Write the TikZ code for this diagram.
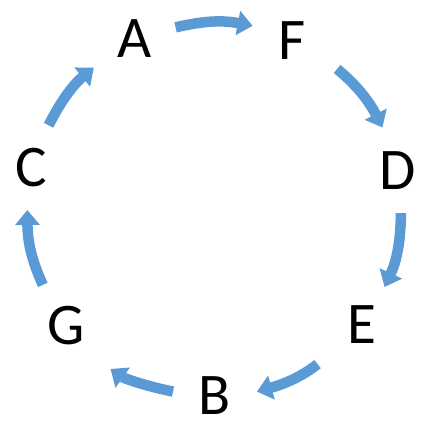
\documentclass[tikz,border=0pt]{standalone}
\usepackage{fontspec}
\setmainfont{Carlito}
\usetikzlibrary{arrows.meta}
\definecolor{arrowblue}{HTML}{5B9BD5}
\begin{document}
\begin{tikzpicture}[x=1pt,y=-1pt,
  letter/.style={circle,minimum size=84pt,inner sep=0pt,font=\fontsize{59}{59}\selectfont},
  cyc/.style={draw=arrowblue,line width=10.5pt,-{Triangle[width=24pt,length=15pt]},bend left=12}]
\useasboundingbox (0,0) rectangle (426,430);
\node[letter] (A) at (135,39) {A};
\node[letter] (F) at (292,41) {F};
\node[letter] (D) at (398,171) {D};
\node[letter] (E) at (362,325) {E};
\node[letter] (B) at (215,396) {B};
\node[letter] (G) at (66,326) {G};
\node[letter] (C) at (31,168) {C};
\draw[cyc] (A.16) to (F.159);
\draw[cyc,shorten <=11pt,shorten >=4pt] (F.-30) to (D.109);
\draw[cyc,shorten >=2pt] (D.-86) to (E.59);
\draw[cyc,shorten <=17pt] (E.-138) to (B.6);
\draw[cyc,shorten >=20pt] (B.174) to (G.-48);
\draw[cyc,shorten <=5pt] (G.120) to (C.-95);
\draw[cyc,shorten <=4pt,shorten >=8pt] (C.68) to (A.-146);
\end{tikzpicture}
\end{document}
